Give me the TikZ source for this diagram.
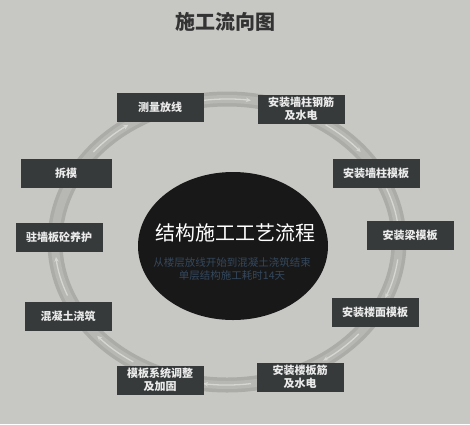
\documentclass[tikz,border=0pt]{standalone}
\usepackage{fontspec}
\newfontfamily\cjk{Noto Sans CJK SC}
\usetikzlibrary{arrows.meta,shapes.geometric}
\definecolor{paper}{HTML}{C7C8C3}
\definecolor{ringdark}{HTML}{ABACA8}
\definecolor{ringmid}{HTML}{B7B8B4}
\definecolor{ringlight}{HTML}{D6D7D3}
\definecolor{boxgray}{HTML}{363A3B}
\definecolor{coreblack}{HTML}{181818}
\definecolor{noteblue}{HTML}{34485E}

\begin{document}
\begin{tikzpicture}[x=1pt,y=-1pt,
	stepbox/.style={fill=boxgray,text=white!92!black,font=\cjk\bfseries\fontsize{11}{13.5}\selectfont,align=center,inner sep=0pt,minimum width=87pt,minimum height=29pt},
	flow/.style={draw=ringlight,line width=1.3pt,-{Stealth[length=5pt,width=4.5pt]}}]
			\pgfmathsetmacro{\cx}{227}
			\pgfmathsetmacro{\cy}{242}
			\pgfmathsetmacro{\rx}{172}
			\pgfmathsetmacro{\ry}{143}
			\fill[paper] (0,0) rectangle (470,424);
			% ring with arrows
			\draw[ringdark,line width=15pt] (\cx,\cy) ellipse [x radius=\rx, y radius=\ry];
			\draw[ringmid,line width=8pt] (\cx,\cy) ellipse [x radius=\rx, y radius=\ry];
			\foreach \a in {270,313,346,15,48,90,131,166,227}
				\draw[flow] ({\cx+\rx*cos(\a-8)},{\cy+\ry*sin(\a-8)}) arc[start angle=\a-8, end angle=\a+8, x radius=\rx, y radius=\ry];
			% title
			\node[font=\cjk\bfseries\fontsize{20}{22}\selectfont,text=black!80] (head) at (225,22) {施工流向图};
			% centre
			\node[ellipse,fill=coreblack,minimum width=190pt,minimum height=148pt] (core) at (233,246) {};
			\node[font=\cjk\fontsize{20}{22}\selectfont,text=white] (coretitle) at (235,233) {结构施工工艺流程};
			\node[font=\cjk\fontsize{10.5}{12.5}\selectfont,text=noteblue,align=center] (corenote) at (232,269) {从楼层放线开始到混凝土浇筑结束\\单层结构施工耗时14天};
			% steps
			\node[stepbox] (cl) at (160,107) {测量放线};
			\node[stepbox] (gj) at (301,109) {安装墙柱钢筋\\及水电};
			\node[stepbox] (qm) at (376,173) {安装墙柱模板};
			\node[stepbox] (lm) at (410,235) {安装梁模板};
			\node[stepbox] (lmm) at (375,312) {安装楼面模板};
			\node[stepbox] (lbj) at (300,377) {安装楼板筋\\及水电};
			\node[stepbox] (mb) at (160,380) {模板系统调整\\及加固};
			\node[stepbox] (hnt) at (68,316) {混凝土浇筑};
			\node[stepbox] (yh) at (59,237) {驻墙板砼养护};
			\node[stepbox,minimum width=91pt] (cm) at (66,173) {拆模};
		\end{tikzpicture}
\end{document}
